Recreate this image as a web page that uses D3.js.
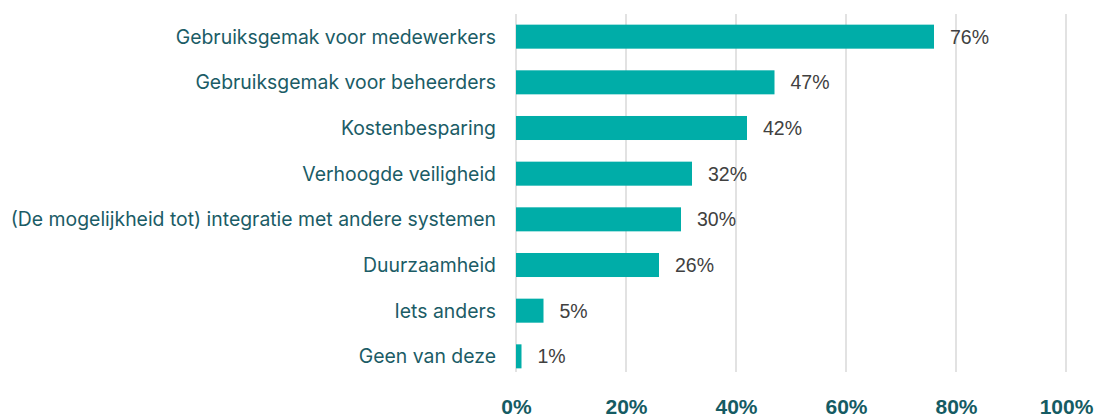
<!DOCTYPE html>
<html>
<head>
<meta charset="utf-8">
<script src="https://cdn.jsdelivr.net/npm/d3@7"></script>
<style>
  body { margin: 0; background: #fff; }
</style>
</head>
<body>
<script>
// Data
const categories = [
    "Gebruiksgemak voor medewerkers",
    "Gebruiksgemak voor beheerders",
    "Kostenbesparing",
    "Verhoogde veiligheid",
    "(De mogelijkheid tot) integratie met andere systemen",
    "Duurzaamheid",
    "Iets anders",
    "Geen van deze"
];
const values = [76, 47, 42, 32, 30, 26, 5, 1];
const ticks = [0, 20, 40, 60, 80, 100];

const W = 1096, H = 419;
const margin = { top: 14, right: 30, bottom: 47, left: 516 };
const width = W - margin.left - margin.right;
const height = H - margin.top - margin.bottom;

const svg = d3.select("body")
    .append("svg")
    .attr("width", W)
    .attr("height", H)
    .append("g")
    .attr("transform", `translate(${margin.left},${margin.top})`);

const x = d3.scaleLinear().domain([0, 100]).range([0, width]);
// bands spill a little past the gridline area, like the original
const y = d3.scaleBand().domain(categories).range([-11, 376]).padding(0.474);

// Gridlines
svg.selectAll(".grid")
    .data(ticks)
    .enter()
    .append("line")
    .attr("x1", d => x(d))
    .attr("x2", d => x(d))
    .attr("y1", 0)
    .attr("y2", height)
    .attr("stroke", "#d9d9d9")
    .attr("stroke-width", 1.5);

// Bars
svg.selectAll(".bar")
    .data(values)
    .enter()
    .append("rect")
    .attr("x", 0)
    .attr("y", (d, i) => y(categories[i]))
    .attr("width", d => x(d))
    .attr("height", y.bandwidth())
    .attr("fill", "#00ada8");

// Value labels
svg.selectAll(".label")
    .data(values)
    .enter()
    .append("text")
    .attr("x", d => x(d) + 16)
    .attr("y", (d, i) => y(categories[i]) + y.bandwidth() / 2)
    .attr("dy", "0.36em")
    .attr("font-family", "Liberation Sans, Arial, sans-serif")
    .attr("font-size", "19.5px")
    .attr("fill", "#404040")
    .text(d => d + "%");

// Category labels
svg.selectAll(".cat")
    .data(categories)
    .enter()
    .append("text")
    .attr("x", -20)
    .attr("y", d => y(d) + y.bandwidth() / 2)
    .attr("dy", "0.36em")
    .attr("text-anchor", "end")
    .attr("font-family", "Inter, sans-serif")
    .attr("font-size", "19.4px")
    .attr("fill", "#1b5c66")
    .text(d => d);

// X axis
const xAxis = svg.append("g")
    .attr("transform", `translate(0,${height})`)
    .call(d3.axisBottom(x).tickValues(ticks).tickFormat(d => d + "%").tickSize(0).tickPadding(27));
xAxis.select(".domain").remove();
xAxis.selectAll("text")
    .attr("font-family", "Liberation Sans, Arial, sans-serif")
    .attr("font-size", "21px")
    .attr("font-weight", "bold")
    .attr("fill", "#155b63");
</script>
</body>
</html>
